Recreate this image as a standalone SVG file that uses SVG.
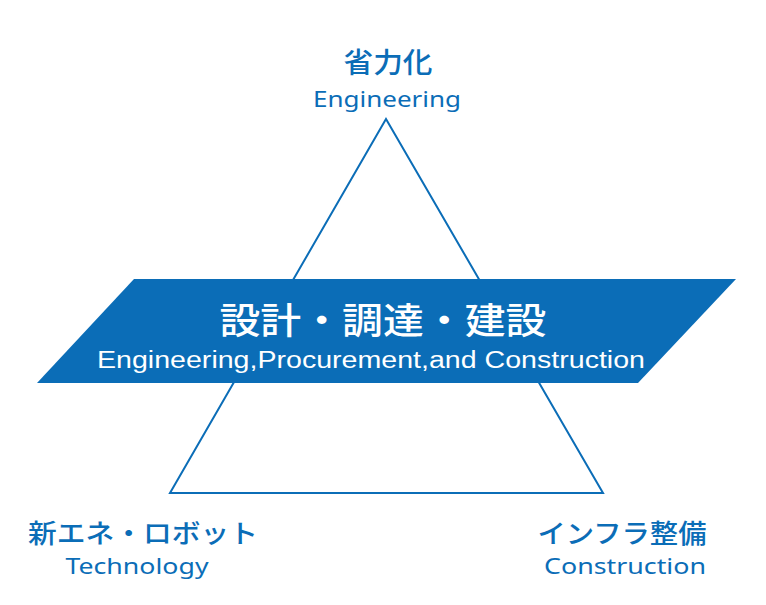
<svg xmlns="http://www.w3.org/2000/svg" width="766" height="605" viewBox="0 0 766 605">
<style>
.lbl{fill:#0b6db7;font-family:"Noto Sans CJK JP","Noto Sans",sans-serif;font-weight:500}
.en{fill:#0b6db7;font-family:"Noto Sans","Liberation Sans",sans-serif}
.wt{fill:#ffffff;font-family:"Noto Sans CJK JP","Noto Sans",sans-serif}
.wte{fill:#ffffff;font-family:"Liberation Sans",Arial,sans-serif}
</style>
<rect width="766" height="605" fill="#ffffff"/>
<g id="connectors">
<polygon points="386,119 170,493 603,493" fill="none" stroke="#0b6db7" stroke-width="2"/>
</g>
<g id="band">
<polygon points="134,279 736,279 638,383 37,383" fill="#0b6db7"/>
<text class="wt" x="383" y="334" font-size="36" font-weight="500" text-anchor="middle" textLength="327" lengthAdjust="spacingAndGlyphs">設計・調達・建設</text>
<text class="wte" x="371" y="368" font-size="23" text-anchor="middle" textLength="548" lengthAdjust="spacingAndGlyphs">Engineering,Procurement,and Construction</text>
</g>
<g id="top">
<text class="lbl" x="388" y="73" font-size="28" text-anchor="middle" textLength="89" lengthAdjust="spacingAndGlyphs">省力化</text>
<text class="en" x="387" y="107" font-size="21" text-anchor="middle" textLength="148" lengthAdjust="spacingAndGlyphs">Engineering</text>
</g>
<g id="left">
<text class="lbl" x="143" y="543" font-size="26" text-anchor="middle" textLength="230" lengthAdjust="spacingAndGlyphs">新エネ・ロボット</text>
<text class="en" x="137" y="574" font-size="21" text-anchor="middle" textLength="143" lengthAdjust="spacingAndGlyphs">Technology</text>
</g>
<g id="right">
<text class="lbl" x="622" y="543" font-size="26" text-anchor="middle" textLength="169" lengthAdjust="spacingAndGlyphs">インフラ整備</text>
<text class="en" x="625" y="574" font-size="21" text-anchor="middle" textLength="162" lengthAdjust="spacingAndGlyphs">Construction</text>
</g>
</svg>
